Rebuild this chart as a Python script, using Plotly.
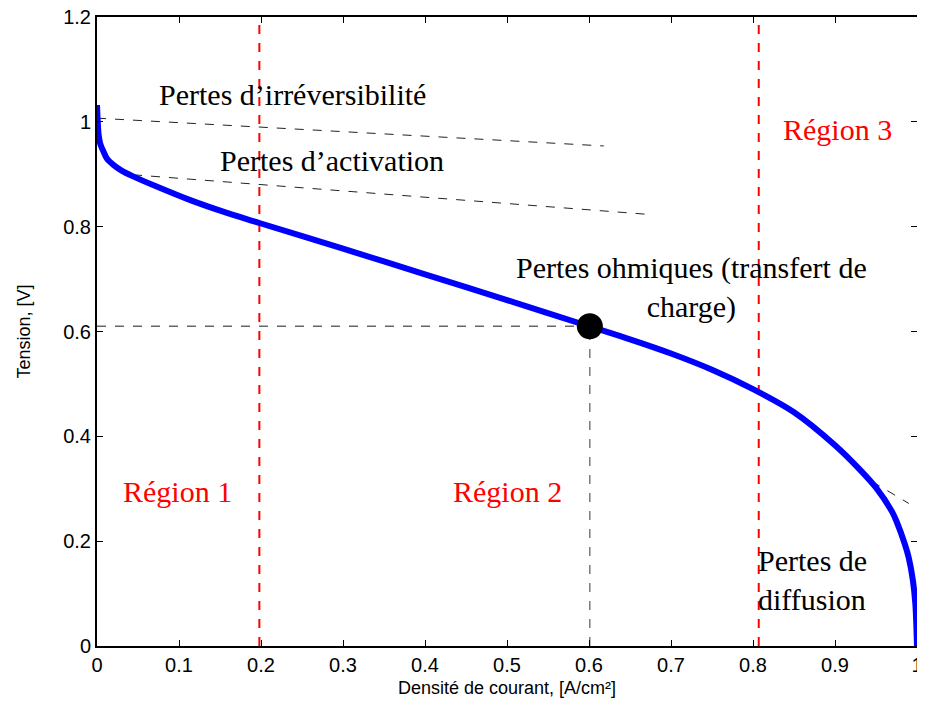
import plotly.graph_objects as go

# Polarization curve
current = [0, 0.002, 0.004, 0.008, 0.012, 0.02, 0.03, 0.044, 0.072, 0.113, 0.153, 0.198,
           0.3, 0.4, 0.5, 0.6, 0.65, 0.7, 0.75, 0.8, 0.85, 0.9, 0.93, 0.95, 0.97, 0.975,
           0.985, 0.99, 0.995, 0.998, 1.0]
voltage = [1.032, 0.975, 0.958, 0.943, 0.93, 0.918, 0.907, 0.896, 0.877, 0.851, 0.829, 0.807,
           0.758, 0.709, 0.66, 0.61, 0.585, 0.558, 0.527, 0.49, 0.446, 0.383, 0.337, 0.302,
           0.255, 0.238, 0.195, 0.168, 0.125, 0.08, 0.0]

# Operating point
op_x = [0.601]
op_y = [0.61]

# Loss guide lines
irrev_x = [0.0, 0.618]
irrev_y = [1.007, 0.954]
activ_x = [0.044, 0.676]
activ_y = [0.899, 0.823]
diff_x = [0.945, 0.99]
diff_y = [0.314, 0.272]

# Region boundaries
region_bounds = [0.198, 0.807]

fig = go.Figure()

# operating point guides
fig.add_trace(go.Scatter(x=[0, op_x[0]], y=[op_y[0], op_y[0]], mode="lines",
                         line=dict(color="#666666", width=1.3, dash="dash"), showlegend=False))
fig.add_trace(go.Scatter(x=[op_x[0], op_x[0]], y=[0, op_y[0]], mode="lines",
                         line=dict(color="#666666", width=1.3, dash="dash"), showlegend=False))

# region boundaries
for xb in region_bounds:
    fig.add_trace(go.Scatter(x=[xb, xb], y=[0, 1.2], mode="lines",
                             line=dict(color="#ff0000", width=2, dash="dash"), showlegend=False))

# loss lines
for lx, ly in [(irrev_x, irrev_y), (activ_x, activ_y), (diff_x, diff_y)]:
    fig.add_trace(go.Scatter(x=lx, y=ly, mode="lines",
                             line=dict(color="#222222", width=1, dash="dash"), showlegend=False))

# main curve
fig.add_trace(go.Scatter(x=current, y=voltage, mode="lines", line_shape="spline",
                         line=dict(color="#0000ff", width=6, smoothing=0.8), showlegend=False))

# operating point
fig.add_trace(go.Scatter(x=op_x, y=op_y, mode="markers",
                         marker=dict(color="black", size=26), showlegend=False))

serif = "Liberation Serif, Times New Roman, serif"
ann = [
    dict(x=0.238, y=1.052, text="Pertes d’irréversibilité", color="black", align="center", xa="center"),
    dict(x=0.286, y=0.927, text="Pertes d’activation", color="black", align="center", xa="center"),
    dict(x=0.725, y=0.683, text="Pertes ohmiques (transfert de<br>charge)", color="black", align="center", xa="center"),
    dict(x=0.903, y=0.985, text="Région 3", color="#ff0000", align="center", xa="center"),
    dict(x=0.098, y=0.294, text="Région 1", color="#ff0000", align="center", xa="center"),
    dict(x=0.501, y=0.294, text="Région 2", color="#ff0000", align="center", xa="center"),
    dict(x=0.804, y=0.126, text="Pertes de<br>diffusion", color="black", align="left", xa="left"),
]
for a in ann:
    fig.add_annotation(x=a["x"], y=a["y"], text=a["text"], showarrow=False,
                       xanchor=a["xa"], yanchor="middle", align=a["align"],
                       font=dict(family=serif, size=30, color=a["color"]))

axis_common = dict(showline=True, linecolor="black", linewidth=2, mirror="ticks",
                   ticks="inside", ticklen=6, tickcolor="black", showgrid=False,
                   zeroline=False, ticklabeloverflow="allow",
                   tickfont=dict(family="Liberation Sans, Arial", size=20, color="black"))

fig.update_xaxes(range=[0, 1], dtick=0.1, tick0=0,
                 title=dict(text="Densité de courant, [A/cm²]", standoff=6,
                            font=dict(family="Liberation Sans, Arial", size=18, color="black")),
                 **axis_common)
fig.update_yaxes(range=[0, 1.2], dtick=0.2, tick0=0,
                 title=dict(text="Tension, [V]", standoff=28,
                            font=dict(family="Liberation Sans, Arial", size=18, color="black")),
                 **axis_common)

fig.update_layout(width=909, height=695, margin=dict(l=89, r=0, t=9, b=57, autoexpand=False),
                  plot_bgcolor="white", paper_bgcolor="white")

fig.write_html("out.html")
